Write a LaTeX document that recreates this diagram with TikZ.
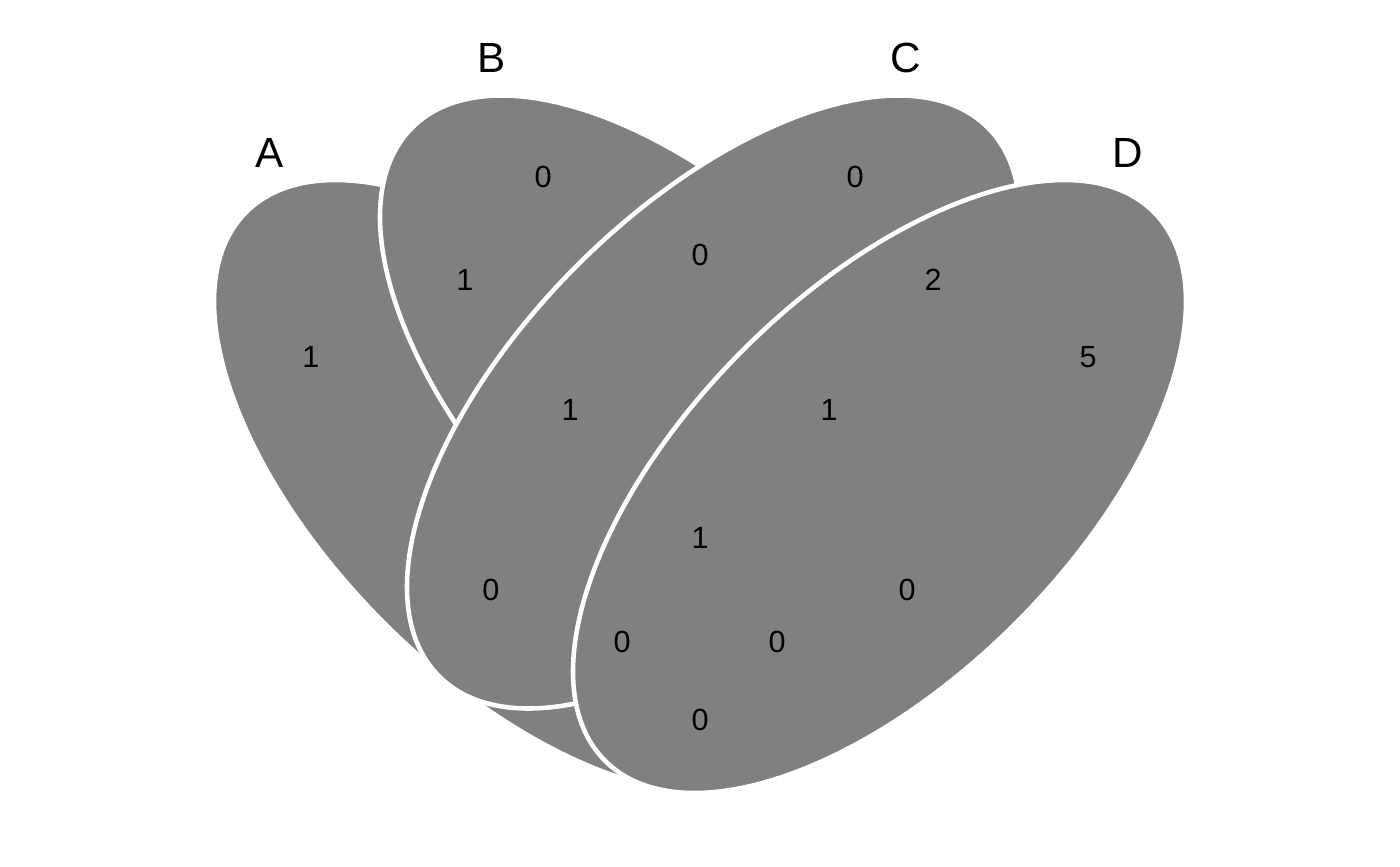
\documentclass[tikz,border=0pt]{standalone}
\usepackage{fontspec}
\setmainfont{Liberation Sans}
\begin{document}
\begin{tikzpicture}[
    x=0.01cm, y=0.01cm,
    set/.style={fill=gray, draw=white, line width=1.3pt},
    setname/.style={inner sep=0pt, font=\fontsize{12}{14}\selectfont},
    count/.style={inner sep=0pt, font=\fontsize{8.7}{10}\selectfont}
]
    \useasboundingbox (0,0) rectangle (1400,866);
    \draw[set, rotate around={-45:(520.5,379.5)}] (520.5,379.5) ellipse [x radius=388, y radius=193];
    \draw[set, rotate around={-45:(686.5,464)}] (686.5,464) ellipse [x radius=388, y radius=193];
    \draw[set, rotate around={45:(713.5,464)}] (713.5,464) ellipse [x radius=388, y radius=193];
    \draw[set, rotate around={45:(879.5,379.5)}] (879.5,379.5) ellipse [x radius=388, y radius=193];
    \node[setname] (la) at (270,713) {A};
    \node[setname] (lb) at (492,808) {B};
    \node[setname] (lc) at (906,808) {C};
    \node[setname] (ld) at (1128,713) {D};
    \node[count] (a) at (311,509) {1};
    \node[count] (b) at (543,689) {0};
    \node[count] (c) at (855,689) {0};
    \node[count] (d) at (1088,509) {5};
    \node[count] (ab) at (465,586) {1};
    \node[count] (bc) at (700,611) {0};
    \node[count] (cd) at (933,586) {2};
    \node[count] (ac) at (491,276) {0};
    \node[count] (bd) at (907,276) {0};
    \node[count] (ad) at (700,146) {0};
    \node[count] (abc) at (570,456) {1};
    \node[count] (bcd) at (829,456) {1};
    \node[count] (abd) at (622,224) {0};
    \node[count] (acd) at (777,224) {0};
    \node[count] (abcd) at (700,328) {1};
\end{tikzpicture}
\end{document}
